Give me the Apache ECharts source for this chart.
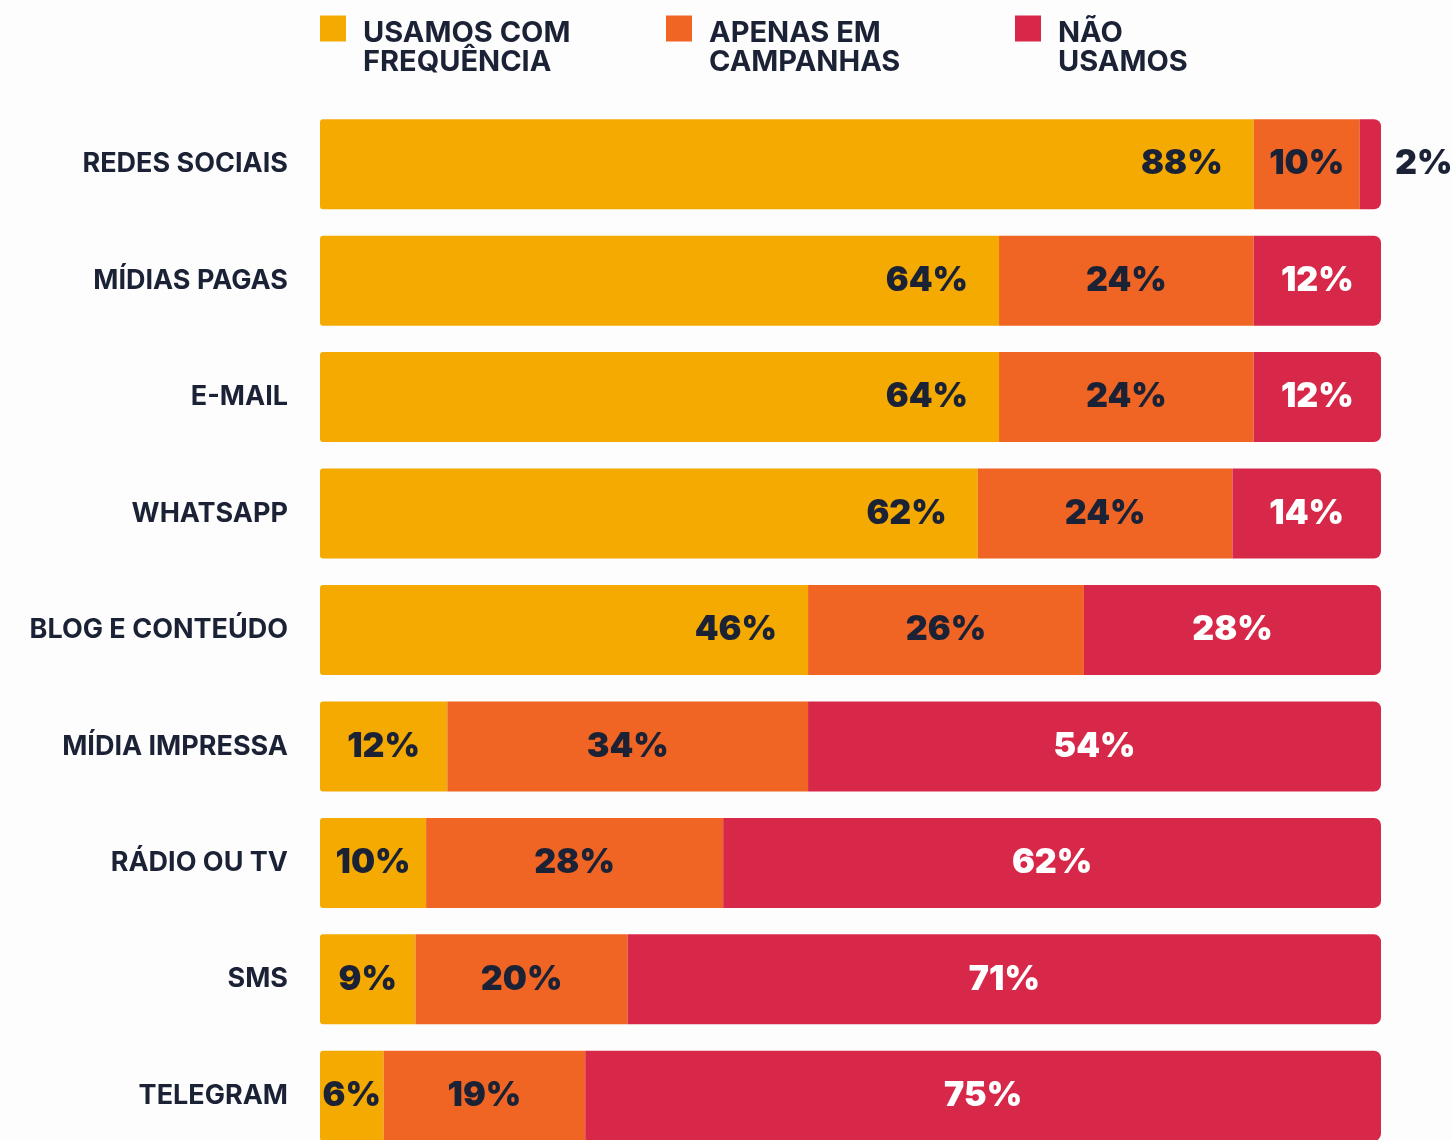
<!DOCTYPE html>
<html>
<head>
<meta charset="utf-8">
<script src="https://cdn.jsdelivr.net/npm/echarts@6/dist/echarts.min.js"></script>
<style>
  html, body { margin: 0; padding: 0; background: #fdfdfd; }
  #chart { width: 1452px; height: 1140px; }
</style>
</head>
<body>
<div id="chart"></div>
<script>
    var categories = ['REDES SOCIAIS', 'MÍDIAS PAGAS', 'E-MAIL', 'WHATSAPP', 'BLOG E CONTEÚDO',
        'MÍDIA IMPRESSA', 'RÁDIO OU TV', 'SMS', 'TELEGRAM'];
    var usamosFreq = [88, 64, 64, 62, 46, 12, 10, 9, 6];   // usamos com frequência
    var campanhas = [10, 24, 24, 24, 26, 34, 28, 20, 19];  // apenas em campanhas
    var naoUsamos = [2, 12, 12, 14, 28, 54, 62, 71, 75];   // não usamos
    var seriesNames = ['USAMOS COM\nFREQUÊNCIA', 'APENAS EM\nCAMPANHAS', 'NÃO\nUSAMOS'];

    var DARK = '#1b2236';
    var FONT = 'Inter';
    var colors = ['#f4aa00', '#f06524', '#d8284a'];

    //rótulos: barras grandes ficam à direita, pequenas no centro
    function freqData(){
        return usamosFreq.map(function(v){
            return {
                value: v,
                label: v > 30 ? { position: 'insideRight', distance: 31 } : { position: 'inside' }
            };
        });
    }
    function naoData(){
        return naoUsamos.map(function(v){
            if(v < 5){
                return { value: v, label: { position: 'right', distance: 14, color: DARK } };
            }
            return v;
        });
    }

    var valueLabel = {
        show: true,
        formatter: '{c}%',
        fontFamily: FONT,
        fontWeight: 900,
        fontSize: 34,
        color: DARK
    };

    //legenda: um componente por série, ícone alinhado com a 1a linha
    var legendX = [320, 666, 1015];
    var legends = seriesNames.map(function(n, i){
        return {
            data: [n],
            left: legendX[i],
            top: -20,
            padding: 0,
            icon: 'rect',
            itemWidth: 26,
            itemHeight: 26,
            itemGap: 0,
            selectedMode: false,
            formatter: function(name){
                return '{s| }\n' + name.split('\n').map(function(l){ return '{t|' + l + '}'; }).join('\n');
            },
            textStyle: {
                padding: [0, 0, 0, 12],
                rich: {
                    s: { fontSize: 10, lineHeight: 39, height: 39 },
                    t: {
                        fontFamily: FONT,
                        fontWeight: 700,
                        fontSize: 29,
                        lineHeight: 29,
                        color: DARK
                    }
                }
            }
        };
    });

    var myChart = echarts.init(document.getElementById('chart'));
    var option = {
        backgroundColor: '#fdfdfd',
        animation: false,
        legend: legends,
        grid: {
            left: 320,
            right: 71,
            top: 106,
            height: 1048,
            outerBoundsMode: 'none'
        },
        xAxis: {
            type: 'value',
            min: 0,
            max: 100,
            show: false
        },
        yAxis: {
            type: 'category',
            inverse: true,
            data: categories,
            axisLine: { show: false },
            axisTick: { show: false },
            axisLabel: {
                margin: 32,
                fontFamily: FONT,
                fontWeight: 700,
                fontSize: 27,
                color: DARK,
                padding: [0, 0, 6, 0]
            }
        },
        series: [{
            name: seriesNames[0],
            type: 'bar',
            stack: 'total',
            barWidth: 90,
            itemStyle: { color: colors[0], borderRadius: [3, 0, 0, 3] },
            label: valueLabel,
            data: freqData()
        }, {
            name: seriesNames[1],
            type: 'bar',
            stack: 'total',
            barWidth: 90,
            itemStyle: { color: colors[1] },
            label: valueLabel,
            data: campanhas
        }, {
            name: seriesNames[2],
            type: 'bar',
            stack: 'total',
            barWidth: 90,
            itemStyle: { color: colors[2], borderRadius: [0, 7, 7, 0] },
            label: Object.assign({}, valueLabel, { color: '#ffffff' }),
            data: naoData()
        }]
    };
    myChart.setOption(option);
</script>
</body>
</html>
